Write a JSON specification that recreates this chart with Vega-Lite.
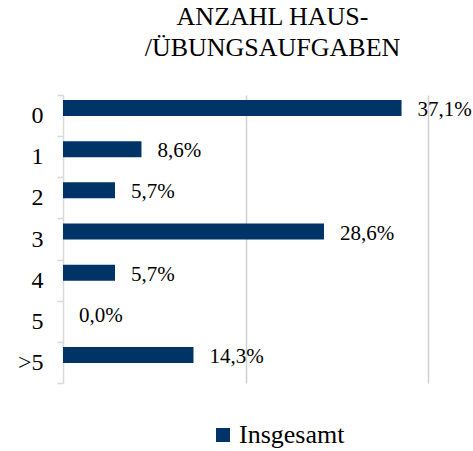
{
  "$schema": "https://vega.github.io/schema/vega-lite/v6.json",
  "autosize": "none",
  "width": 365,
  "height": 288,
  "padding": {"left": 63, "top": 95, "right": 45, "bottom": 68},
  "background": "white",
  "config": {
    "locale": {"number": {"decimal": ",", "thousands": ".", "grouping": [3], "currency": ["", " €"]}},
    "view": {"stroke": null},
    "font": "Liberation Serif",
    "style": {"guide-label": {"font": "Liberation Serif, Times New Roman, serif", "fill": "#000000"}},
    "legend": {"labelFont": "Liberation Serif, Times New Roman, serif", "labelFontSize": 26, "labelColor": "#000000"}
  },
  "title": {
    "text": ["ANZAHL HAUS-", "/ÜBUNGSAUFGABEN"],
    "font": "Liberation Serif",
    "fontSize": 26,
    "fontWeight": "normal",
    "color": "#000000",
    "lineHeight": 31,
    "anchor": "middle",
    "frame": "group",
    "dx": 27,
    "baseline": "bottom",
    "offset": -4
  },
  "data": {
    "values": [
      {"kategorie": "0", "anteil": 0.371, "serie": "Insgesamt"},
      {"kategorie": "1", "anteil": 0.086, "serie": "Insgesamt"},
      {"kategorie": "2", "anteil": 0.057, "serie": "Insgesamt"},
      {"kategorie": "3", "anteil": 0.286, "serie": "Insgesamt"},
      {"kategorie": "4", "anteil": 0.057, "serie": "Insgesamt"},
      {"kategorie": "5", "anteil": 0.0, "serie": "Insgesamt"},
      {"kategorie": ">5", "anteil": 0.143, "serie": "Insgesamt"}
    ]
  },
  "encoding": {
    "y": {
      "field": "kategorie",
      "type": "nominal",
      "sort": ["0", "1", "2", "3", "4", "5", ">5"],
      "scale": {"paddingInner": 0, "paddingOuter": 0},
      "axis": {
        "title": null,
        "tickBand": "extent",
        "domainColor": "#d9d9d9",
        "domainWidth": 1.5,
        "tickColor": "#d9d9d9",
        "tickWidth": 1.5,
        "tickSize": 6,
        "labelFont": "Liberation Serif",
        "labelFontSize": 24,
        "labelColor": "#000000",
        "labelPadding": 14,
        "grid": false
      }
    },
    "x": {
      "field": "anteil",
      "type": "quantitative",
      "scale": {"domain": [0, 0.4], "nice": false},
      "axis": {
        "title": null,
        "values": [0.2, 0.4],
        "labels": false,
        "ticks": false,
        "domain": false,
        "grid": true,
        "gridColor": "#d0d0d0",
        "gridWidth": 1.5
      }
    }
  },
  "layer": [
    {
      "mark": {"type": "bar", "height": 16, "yOffset": -7.5},
      "encoding": {
        "color": {
          "field": "serie",
          "type": "nominal",
          "scale": {"range": ["#003366"]},
          "legend": {
            "title": null,
            "orient": "none",
            "legendX": 147,
            "legendY": 327,
            "padding": 0,
            "symbolType": "square",
            "symbolSize": 196,
            "symbolStrokeWidth": 0,
            "labelFont": "Liberation Serif, Times New Roman, serif",
            "labelFontSize": 26,
            "labelColor": "#000000",
            "labelOffset": 3
          }
        }
      }
    },
    {
      "mark": {
        "type": "text",
        "align": "left",
        "baseline": "middle",
        "dx": 16,
        "yOffset": -5.5,
        "font": "Liberation Serif",
        "fontSize": 21,
        "color": "#000000"
      },
      "encoding": {
        "text": {"field": "anteil", "type": "quantitative", "format": ".1%"}
      }
    }
  ]
}
